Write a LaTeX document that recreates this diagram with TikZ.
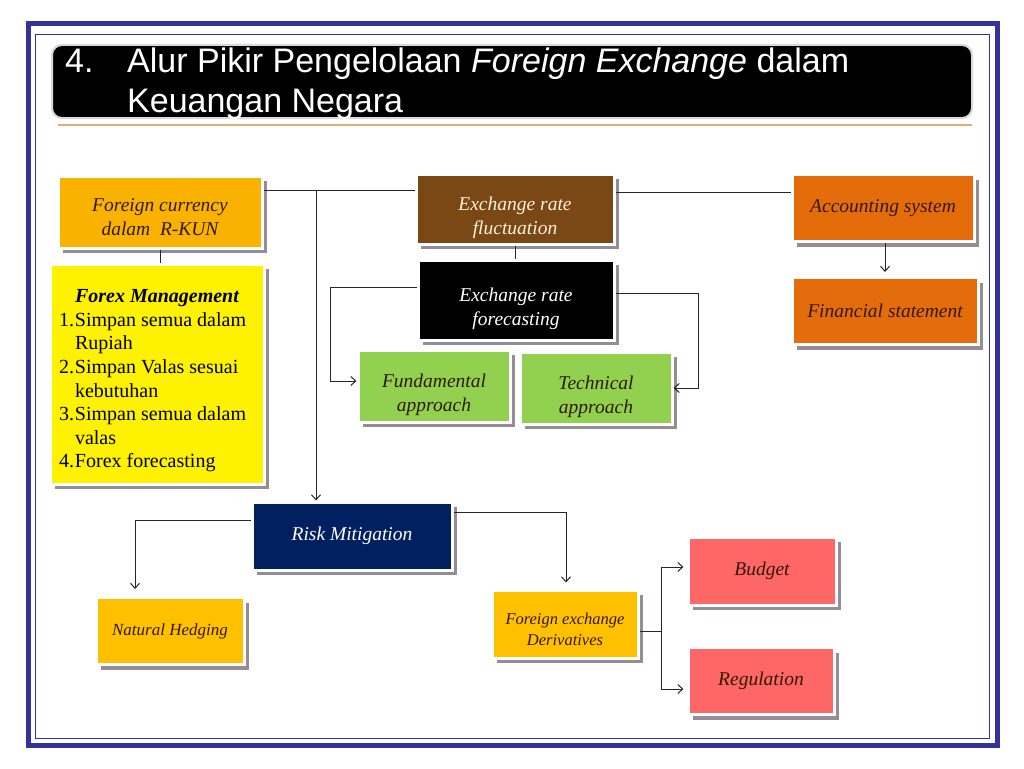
\documentclass[tikz,border=0pt]{standalone}
\usepackage{fontspec}
\setmainfont{Liberation Serif}
\newfontfamily\ttlfont{Liberation Sans}
\usetikzlibrary{arrows.meta,calc,shadows}
\definecolor{frameb}{RGB}{51,51,153}
\definecolor{ulc}{RGB}{228,172,120}
\definecolor{kunc}{RGB}{250,178,0}
\definecolor{fluc}{RGB}{122,72,20}
\definecolor{grn}{RGB}{146,208,80}
\definecolor{accc}{RGB}{228,108,10}
\definecolor{navy}{RGB}{0,32,96}
\definecolor{ambr}{RGB}{255,192,0}
\definecolor{salm}{RGB}{255,102,102}
\definecolor{shd}{RGB}{150,140,150}
\definecolor{dtxt}{RGB}{50,25,5}
% two lines, set a bit low in the box
\newcommand{\twol}[3][9pt]{\raisebox{-#1}[\height][\depth]{%
  \begin{tabular}{@{}c@{}}#2\\#3\end{tabular}}}

\tikzset{
  box/.style={draw=white, line width=3pt, align=center, text=dtxt,
              font=\fontsize{19.5}{24}\selectfont\itshape,
              drop shadow={shadow xshift=5pt,shadow yshift=-5pt,
                           fill=shd,opacity=1}},
  small/.style={font=\fontsize{16.5}{21}\selectfont\itshape},
  conn/.style={black!85, line width=1pt},
  arr/.style={conn, -{Straight Barb[length=5pt,width=9pt]}}
}

\begin{document}
\begin{tikzpicture}[x=1pt,y=-1pt]
\useasboundingbox (0,0) rectangle (1024,768);

% frame
\draw[frameb,line width=5pt] (28,23.5) rectangle (997.5,745);
\draw[frameb,line width=0.8pt] (35,34) rectangle (989,738);

% title
\node[fill=black, draw=black!15, line width=2pt, rounded corners=10pt,
      minimum width=920pt, minimum height=73pt] (bar) at (512,81.5) {};
\draw[ulc,line width=2.5pt] (58,125) -- (972,125);
\node[anchor=north west, align=left, text=white, inner sep=0pt,
      font=\ttlfont\fontsize{34}{40}\selectfont] (ttl) at (65,48)
  {\makebox[62pt][l]{4.}Alur Pikir Pengelolaan \textit{Foreign Exchange} dalam\\
   \hspace*{62pt}Keuangan Negara};

% boxes
\node[box,fill=kunc,minimum width=204pt,minimum height=72pt] (kun) at (160,212)
  {\twol[7pt]{Foreign currency}{dalam~ R-KUN}};
\node[box,fill=yellow,minimum width=214pt,minimum height=220pt,text=black,
      font=\fontsize{20}{23.6}\selectfont] (mgmt) at (157,374)
  {\raisebox{-7pt}[\height][\depth]{\parbox{196pt}{\raggedright
   \hspace*{16pt}\textbf{\textit{Forex Management}}\\
   \makebox[16pt][l]{1.}Simpan semua dalam\\
   \hspace*{16pt}Rupiah\\
   \makebox[16pt][l]{2.}Simpan Valas sesuai\\
   \hspace*{16pt}kebutuhan\\
   \makebox[16pt][l]{3.}Simpan semua dalam\\
   \hspace*{16pt}valas\\
   \makebox[16pt][l]{4.}Forex forecasting}}};
\node[box,fill=fluc,text={rgb,255:red,255;green,240;blue,220},
      minimum width=198pt,minimum height=70pt] (fluct) at (515,209)
  {\twol{Exchange rate}{fluctuation}};
\node[box,fill=black,text=white,minimum width=196pt,minimum height=80pt] (fcast) at (516,300)
  {\twol{Exchange rate}{forecasting}};
\node[box,fill=grn,minimum width=152pt,minimum height=72pt] (fund) at (434,386)
  {\twol{Fundamental}{approach}};
\node[box,fill=grn,minimum width=152pt,minimum height=72pt] (tech) at (596,388)
  {\twol{Technical}{approach}};
\node[box,fill=accc,minimum width=182pt,minimum height=67pt] (acc) at (883,208)
  {Accounting system};
\node[box,fill=accc,minimum width=186pt,minimum height=67pt] (fin) at (885,311)
  {Financial statement};
\node[box,fill=navy,text=white,minimum width=200pt,minimum height=68pt] (risk) at (352,536)
  {Risk Mitigation};
\node[box,small,fill=ambr,minimum width=148pt,minimum height=67pt,
      font=\fontsize{17}{21}\selectfont\itshape] (nat) at (170,631)
  {Natural Hedging};
\node[box,small,fill=ambr,minimum width=146pt,minimum height=68pt] (deriv) at (565,624)
  {\twol[7pt]{Foreign exchange}{Derivatives}};
\node[box,fill=salm,minimum width=148pt,minimum height=68pt] (budget) at (762,571)
  {Budget};
\node[box,fill=salm,minimum width=146pt,minimum height=67pt] (reg) at (761,681)
  {Regulation};

% connectors
\coordinate (jn) at (316,190);
\draw[conn] (kun.east |- jn) -- (fluct.west |- jn);
\draw[conn] (kun.south) -- (kun.south |- mgmt.north);
\draw[arr] (jn) -- (jn |- risk.north);
\coordinate (ja) at (700,192);
\draw[conn] (fluct.east |- ja) -- (acc.west |- ja);
\draw[arr,shorten >=4pt] (fin.north |- acc.south) -- (fin.north);
\draw[conn] (fluct.south) -- (fluct.south |- fcast.north);

\coordinate (fl) at (330,287);
\draw[arr] (fcast.west |- fl) -- (fl) |- ($(fund.west)+(0,-5)$);
\coordinate (fr) at (698,293);
\draw[arr] (fcast.east |- fr) -- (fr) |- (tech.east);

\coordinate (rl) at (135,520);
\draw[arr,shorten >=7pt] (risk.west |- rl) -- (rl) -- (rl |- nat.north);
\coordinate (rr) at (566,512);
\draw[arr,shorten >=6pt] (risk.east |- rr) -- (rr) -- (rr |- deriv.north);

\coordinate (dj) at (661,631);
\draw[conn] (deriv.east |- dj) -- (dj);
\draw[arr,shorten >=3pt] (dj) |- ($(budget.west)+(0,-4)$);
\draw[arr,shorten >=3pt] (dj) |- ($(reg.west)+(0,8)$);

\end{tikzpicture}
\end{document}
